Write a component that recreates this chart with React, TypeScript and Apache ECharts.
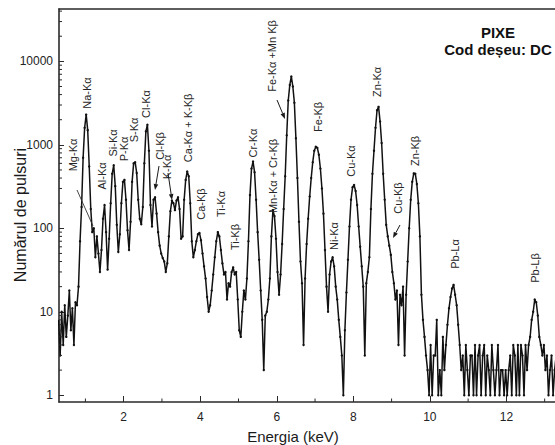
import React, { useEffect, useRef } from "react";
import * as echarts from "echarts";

// ---------- data (counts) ----------
const ENERGY_START_KEV = 0.3; // energy of the first point
const ENERGY_STEP_KEV = 0.04; // energy step between points

const COUNTS_0_3_TO_1_3 = [8, 3, 10, 4, 12, 5, 9, 18, 6, 11, 4, 13, 12, 20, 70, 180, 700, 1600, 2300, 1500, 550, 170, 90, 100, 45];
const COUNTS_1_3_TO_2_3 = [80, 50, 30, 55, 130, 190, 90, 32, 75, 200, 450, 570, 320, 110, 52, 85, 200, 360, 380, 220, 95, 55, 120, 360, 600];
const COUNTS_2_3_TO_3_3 = [620, 460, 220, 130, 112, 180, 600, 1450, 1740, 850, 190, 105, 220, 235, 150, 90, 62, 50, 44, 40, 30, 38, 80, 160, 215];
const COUNTS_3_3_TO_4_3 = [200, 165, 215, 235, 170, 75, 80, 220, 380, 480, 420, 200, 70, 45, 55, 70, 85, 88, 72, 50, 35, 25, 15, 10, 12];
const COUNTS_4_3_TO_5_3 = [18, 28, 45, 70, 90, 80, 55, 38, 28, 30, 14, 22, 20, 30, 34, 28, 30, 14, 6, 5, 10, 18, 14, 25, 70];
const COUNTS_5_3_TO_6_3 = [250, 520, 630, 470, 220, 90, 42, 18, 8, 2, 9, 10, 14, 25, 80, 165, 140, 75, 30, 16, 28, 65, 170, 420, 1300];
const COUNTS_6_3_TO_7_3 = [3400, 5200, 6600, 5000, 3200, 1200, 400, 120, 40, 22, 4, 25, 65, 130, 240, 400, 620, 850, 950, 920, 760, 520, 300, 150, 55];
const COUNTS_7_3_TO_8_3 = [20, 10, 28, 40, 45, 35, 20, 14, 8, 5, 3, 1, 6, 17, 42, 105, 220, 310, 330, 280, 190, 105, 60, 35, 20];
const COUNTS_8_3_TO_9_3 = [3, 22, 30, 45, 170, 450, 850, 1600, 2600, 2850, 1900, 1050, 450, 220, 110, 80, 62, 48, 30, 22, 14, 18, 4, 16, 12];
const COUNTS_9_3_TO_10_3 = [20, 3, 16, 40, 100, 220, 360, 455, 450, 340, 200, 80, 16, 8, 5, 3, 2, 1, 4, 1, 3, 3, 8, 1, 2];
const COUNTS_10_3_TO_11_3 = [1, 5, 2, 4, 7, 11, 15, 19, 21, 16, 12, 7, 4, 2, 3, 1, 4, 2, 1, 3, 3, 1, 4, 1, 3];
const COUNTS_11_3_TO_12_3 = [4, 1, 3, 4, 1, 3, 2, 1, 4, 2, 1, 2, 4, 1, 2, 2, 1, 2, 1, 2, 3, 1, 4, 3, 1];
const COUNTS_12_3_TO_13_3 = [4, 1, 4, 3, 1, 4, 2, 4, 5, 8, 10, 14, 13, 9, 5, 4, 3, 4, 2, 3, 1, 2, 3, 1, 2, 3];

const COUNT_ROWS = [
  COUNTS_0_3_TO_1_3, COUNTS_1_3_TO_2_3, COUNTS_2_3_TO_3_3, COUNTS_3_3_TO_4_3,
  COUNTS_4_3_TO_5_3, COUNTS_5_3_TO_6_3, COUNTS_6_3_TO_7_3, COUNTS_7_3_TO_8_3,
  COUNTS_8_3_TO_9_3, COUNTS_9_3_TO_10_3, COUNTS_10_3_TO_11_3, COUNTS_11_3_TO_12_3,
  COUNTS_12_3_TO_13_3,
];

const X_MAJOR_TICKS = [2, 4, 6, 8, 10, 12];
const X_MINOR_TICKS = [1, 3, 5, 7, 9, 11, 13];
const Y_DECADES = [1, 10, 100, 1000, 10000];
const Y_MINOR_MULTIPLIERS = [2, 3, 4, 5, 6, 7, 8, 9];

const PEAK_LABELS = [
  "Mg-Kα", "Na-Kα", "Al-Kα", "Si-Kα", "P-Kα", "S-Kα", "Cl-Kα", "Cl-Kβ", "K-Kα",
  "Ca-Kα + K-Kβ", "Ca-Kβ", "Ti-Kα", "Ti-Kβ", "Cr-Kα", "Fe-Kα +Mn Kβ", "Mn-Kα + Cr-Kβ",
  "Fe-Kβ", "Ni-Kα", "Cu-Kα", "Zn-Kα", "Cu-Kβ", "Zn-Kβ", "Pb-Lα", "Pb-Lβ",
];
const TITLE_LINES = ["PIXE", "Cod deșeu: DC"];
const X_TITLE = "Energia (keV)";
const Y_TITLE = "Numărul de pulsuri";

// ---------- layout ----------
const X_MIN = 0.31;
const X_MAX = 13.27;
const Y_MIN = 0.83;
const Y_MAX = 42400;
const FONT = "'Liberation Sans', Arial, Helvetica, sans-serif";
const INK = "#1a1a1a";
const AXIS_COLOR = "#2a2a2a";

const PEAK_LABEL_XY = [
  [72.5, 155], [87, 93], [101.5, 176], [112.5, 143], [123.5, 149], [133.5, 130],
  [146, 104], [159.5, 146], [166.5, 167], [188, 128], [201, 204], [221, 204],
  [234.5, 237], [253, 143], [271.5, 56], [273, 176], [318, 117], [334, 236],
  [351, 161], [377, 82], [398, 198], [415, 151], [455, 254], [534.5, 268],
];
const ARROWS = [
  [159, 166, 155, 190],
  [168, 173, 172, 200],
  [277, 100, 285, 119],
  [400, 225, 393, 238],
];
const MG_POINTER = [77, 190, 93, 226];

function arrowElements(a: number[]) {
  const [x1, y1, x2, y2] = a;
  const dx = x2 - x1;
  const dy = y2 - y1;
  const len = Math.hypot(dx, dy);
  const ux = dx / len;
  const uy = dy / len;
  const hl = 6;
  const hw = 2.3;
  const bx = x2 - ux * hl;
  const by = y2 - uy * hl;
  return [
    { type: "line", z: 100, shape: { x1, y1, x2: bx, y2: by }, style: { stroke: INK, lineWidth: 1 } },
    {
      type: "polygon",
      z: 100,
      shape: { points: [[x2, y2], [bx - uy * hw, by + ux * hw], [bx + uy * hw, by - ux * hw]] },
      style: { fill: INK },
    },
  ];
}

function textEl(text: string, x: number, y: number, size: number, opts: any = {}) {
  return {
    type: "text",
    z: 100,
    x,
    y,
    rotation: opts.rotation || 0,
    style: {
      text,
      fill: opts.fill || INK,
      fontSize: size,
      fontFamily: FONT,
      fontWeight: opts.bold ? "bold" : "normal",
      align: "center",
      verticalAlign: "middle",
      textAlign: "center",
      textVerticalAlign: "middle",
    },
  };
}

export default function App() {
  const ref = useRef<HTMLDivElement>(null);

  useEffect(() => {
    if (!ref.current) return;
    const chart = echarts.init(ref.current, null, { renderer: "svg" });

    const spectrum = COUNT_ROWS.flat().map((c, i) => [
      Number((ENERGY_START_KEV + i * ENERGY_STEP_KEV).toFixed(2)),
      c,
    ]);
    const yMinor: number[] = [];
    Y_DECADES.forEach((d) =>
      Y_MINOR_MULTIPLIERS.forEach((m) => {
        if (d * m <= Y_MAX) yMinor.push(d * m);
      })
    );

    const graphics: any[] = [];
    PEAK_LABELS.forEach((t, i) => {
      const [x, y] = PEAK_LABEL_XY[i];
      graphics.push(textEl(t, x, y, 11, { rotation: Math.PI / 2, fill: "#262626" }));
    });
    ARROWS.forEach((a) => graphics.push(...arrowElements(a)));
    graphics.push({
      type: "line",
      z: 100,
      shape: { x1: MG_POINTER[0], y1: MG_POINTER[1], x2: MG_POINTER[2], y2: MG_POINTER[3] },
      style: { stroke: "#333", lineWidth: 0.9 },
    });
    graphics.push(textEl(TITLE_LINES[0], 498, 32, 15, { bold: true, fill: "#111" }));
    graphics.push(textEl(TITLE_LINES[1], 498, 49.5, 15, { bold: true, fill: "#111" }));
    graphics.push(textEl(X_TITLE, 293, 436, 15, { fill: "#1a1a1a" }));
    graphics.push(textEl(Y_TITLE, 20, 215, 16, { rotation: Math.PI / 2, fill: "#1a1a1a" }));

    chart.setOption({
      animation: false,
      backgroundColor: "#ffffff",
      grid: { left: 59, right: 0, top: 9, bottom: 43, containLabel: false },
      xAxis: [
        {
          type: "value",
          min: X_MIN,
          max: X_MAX,
          position: "bottom",
          axisLine: { show: true, onZero: false, lineStyle: { color: AXIS_COLOR, width: 1.6 } },
          axisTick: { show: true, inside: true, length: 6, customValues: X_MAJOR_TICKS, lineStyle: { color: AXIS_COLOR, width: 1 } },
          axisLabel: { customValues: X_MAJOR_TICKS, margin: 9, fontSize: 12, fontFamily: FONT, color: "#222" },
          splitLine: { show: false },
        },
        {
          type: "value",
          min: X_MIN,
          max: X_MAX,
          position: "top",
          axisLine: { show: true, onZero: false, lineStyle: { color: AXIS_COLOR, width: 1.6 } },
          axisTick: { show: false },
          axisLabel: { show: false },
          splitLine: { show: false },
        },
      ],
      yAxis: {
        type: "log",
        logBase: 10,
        min: Y_MIN,
        max: Y_MAX,
        axisLine: { show: true, onZero: false, lineStyle: { color: AXIS_COLOR, width: 1.6 } },
        axisTick: { show: true, inside: true, length: 5, lineStyle: { color: AXIS_COLOR, width: 1 } },
        axisLabel: {
          showMinLabel: false,
          showMaxLabel: false,
          margin: 6,
          fontSize: 12,
          fontFamily: FONT,
          color: "#222",
          formatter: (v: number) => String(Math.round(v)),
        },
        splitLine: { show: false },
      },
      graphic: { elements: graphics },
      series: [
        {
          type: "line",
          xAxisIndex: 0,
          data: spectrum,
          showSymbol: true,
          showAllSymbol: true,
          symbol: "circle",
          symbolSize: 2.4,
          itemStyle: { color: "#111" },
          lineStyle: { color: "#111", width: 1.5 },
          silent: true,
          z: 3,
        },
        {
          type: "custom",
          xAxisIndex: 0,
          data: X_MINOR_TICKS.map((v) => [v, Y_MIN]),
          silent: true,
          z: 5,
          renderItem: (_p: any, api: any) => {
            const p = api.coord([api.value(0), Y_MIN]);
            return {
              type: "line",
              shape: { x1: p[0], y1: p[1], x2: p[0], y2: p[1] - 3.5 },
              style: { stroke: AXIS_COLOR, lineWidth: 1 },
            };
          },
        },
        {
          type: "custom",
          xAxisIndex: 0,
          data: yMinor.map((v) => [X_MIN, v]),
          silent: true,
          z: 5,
          renderItem: (_p: any, api: any) => {
            const p = api.coord([X_MIN, api.value(1)]);
            return {
              type: "line",
              shape: { x1: p[0], y1: p[1], x2: p[0] + 3, y2: p[1] },
              style: { stroke: AXIS_COLOR, lineWidth: 1 },
            };
          },
        },
      ],
    });

    return () => chart.dispose();
  }, []);

  return (
    <div
      ref={ref}
      style={{ position: "fixed", left: 0, top: 0, width: 555, height: 445, background: "#fff" }}
    />
  );
}
